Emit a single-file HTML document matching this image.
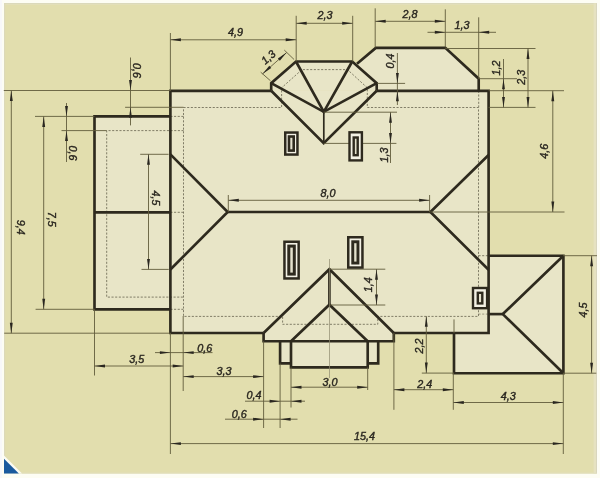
<!DOCTYPE html>
<html><head><meta charset="utf-8"><style>
html,body{margin:0;padding:0;background:#fdfdf4;}
svg{display:block;} .w{will-change:transform;}
text{font-family:"Liberation Sans",sans-serif;font-style:italic;fill:#2a2720;stroke:#2a2720;stroke-width:0.4px;}
</style></head><body>
<div class="w"><svg width="600" height="478" viewBox="0 0 600 478">
<rect x="0" y="0" width="600" height="478" fill="#fdfdf4"/>
<rect x="0" y="0" width="2" height="478" fill="#f8f8fa"/>
<rect x="4" y="3.2" width="592.6" height="470.4" fill="#e2deae"/>
<rect x="4" y="3.1" width="592.6" height="0.8" fill="#d8d5bd"/>
<rect x="4" y="3.9" width="592.6" height="1.1" fill="#e3dfb9"/>
<rect x="4" y="3.2" width="1.3" height="470.4" fill="#dcd9b9"/>
<rect x="593.6" y="3.2" width="2.4" height="470.4" fill="#e6e2c0"/>
<rect x="596" y="3.2" width="0.9" height="470.4" fill="#d7d4bc"/>
<rect x="4" y="472.7" width="592.6" height="0.9" fill="#e2dfc2"/>
<polygon points="170.4,90.8 488.6,90.8 488.6,333 170.4,333" fill="#e8e5c7"/>
<polygon points="271.2,90.8 271.2,83.2 296,61.5 352.2,61.5 376.7,83.2 376.7,90.8" fill="#e8e5c7"/>
<polygon points="357,63.8 375.8,47.9 445.3,47.9 478.7,78.7 478.7,90.8 376.7,90.8 376.7,83.3" fill="#e8e5c7"/>
<polygon points="94.5,116.4 170.4,116.4 170.4,309.3 94.5,309.3" fill="#e8e5c7"/>
<polygon points="488.6,255.7 563.4,255.7 563.4,373.2 454,373.2 454,333 488.6,333" fill="#e8e5c7"/>
<polygon points="263.6,333 329.4,269.2 393.8,333 393.8,341.2 263.6,341.2" fill="#e8e5c7"/>
<polygon points="280.1,341.2 378.2,341.2 378.2,363.4 368,363.4 368,367.4 291,367.4 291,363.4 280.1,363.4" fill="#e8e5c7"/>
<polyline points="183.5,107.5 281.6,107.5 281.6,87.8 302,69.6 347.5,69.6 367.3,87.8 367.3,107.5 478.5,107.5 478.5,316.4 377.8,316.4 377.8,324.3 282.6,324.3 282.6,316.4 183.5,316.4 183.5,107.5" fill="none" stroke="#6e6a55" stroke-width="0.85" stroke-dasharray="2.1,1.55"/>
<polyline points="183.6,130.6 106.7,130.6 106.7,297.1 183.6,297.1" fill="none" stroke="#6e6a55" stroke-width="0.85" stroke-dasharray="2.1,1.55"/>
<polyline points="170.4,116.4 183.6,116.4" fill="none" stroke="#6e6a55" stroke-width="0.85" stroke-dasharray="2.1,1.55"/>
<polyline points="170.4,309.3 183.6,309.3" fill="none" stroke="#6e6a55" stroke-width="0.85" stroke-dasharray="2.1,1.55"/>
<polyline points="170.4,212.3 183.6,212.3" fill="none" stroke="#6e6a55" stroke-width="0.85" stroke-dasharray="2.1,1.55"/>
<polyline points="478.5,255.7 488.6,255.7" fill="none" stroke="#6e6a55" stroke-width="0.85" stroke-dasharray="2.1,1.55"/>
<polyline points="478.5,314.1 488.6,314.1" fill="none" stroke="#6e6a55" stroke-width="0.6" stroke-dasharray="2.1,1.55"/>
<polyline points="478.7,90.8 478.7,107.3" fill="none" stroke="#6e6a55" stroke-width="0.85" stroke-dasharray="2.1,1.55"/>
<polyline points="271.2,90.8 170.4,90.8 170.4,333 263.6,333" fill="none" stroke="#2e2a1e" stroke-width="2.65" stroke-linejoin="miter" />
<polyline points="376.7,90.8 488.6,90.8 488.6,333 393.8,333" fill="none" stroke="#2e2a1e" stroke-width="2.65" stroke-linejoin="miter" />
<polyline points="271.2,90.8 271.2,83.2 296,61.5 352.2,61.5 376.7,83.2 376.7,90.8" fill="none" stroke="#2e2a1e" stroke-width="2.65" stroke-linejoin="miter" />
<polyline points="271.2,90.8 323.7,143.2 376.7,90.8" fill="none" stroke="#2e2a1e" stroke-width="2.65" stroke-linejoin="miter" />
<polyline points="296,61.5 323.8,111.8 352.2,61.5" fill="none" stroke="#2e2a1e" stroke-width="2.65" stroke-linejoin="miter" />
<polyline points="271.2,83.2 323.8,111.8 376.7,83.2" fill="none" stroke="#2e2a1e" stroke-width="2.65" stroke-linejoin="miter" />
<line x1="323.8" y1="111.8" x2="323.8" y2="143.2" stroke="#2e2a1e" stroke-width="1.7" />
<polyline points="357,63.8 375.8,47.9 445.3,47.9 478.7,78.7 478.7,90.8" fill="none" stroke="#2e2a1e" stroke-width="2.65" stroke-linejoin="miter" />
<polyline points="170.4,116.4 94.5,116.4 94.5,309.3 170.4,309.3" fill="none" stroke="#2e2a1e" stroke-width="2.65" stroke-linejoin="miter" />
<line x1="94.5" y1="212.3" x2="170.4" y2="212.3" stroke="#2e2a1e" stroke-width="2.65" />
<polyline points="170.4,154.4 227.7,212 170.4,269.5" fill="none" stroke="#2e2a1e" stroke-width="2.65" stroke-linejoin="miter" />
<line x1="227.7" y1="212" x2="430.4" y2="212" stroke="#2e2a1e" stroke-width="2.65" />
<polyline points="488.6,155 430.4,212 488.6,269.8" fill="none" stroke="#2e2a1e" stroke-width="2.65" stroke-linejoin="miter" />
<polyline points="488.6,255.7 563.4,255.7 563.4,373.2 454,373.2 454,333" fill="none" stroke="#2e2a1e" stroke-width="2.65" stroke-linejoin="miter" />
<polyline points="563.4,255.7 502.8,314.1 563.4,373.2" fill="none" stroke="#2e2a1e" stroke-width="2.65" stroke-linejoin="miter" />
<line x1="488.6" y1="314.1" x2="502.8" y2="314.1" stroke="#2e2a1e" stroke-width="2.65" />
<polyline points="263.6,333 263.6,341.2 393.8,341.2 393.8,333" fill="none" stroke="#2e2a1e" stroke-width="2.65" stroke-linejoin="miter" />
<polyline points="263.6,333 329.4,269.2 393.8,333" fill="none" stroke="#2e2a1e" stroke-width="2.65" stroke-linejoin="miter" />
<polyline points="291,341.2 329.4,304.7 367.7,341.2" fill="none" stroke="#2e2a1e" stroke-width="2.65" stroke-linejoin="miter" />
<line x1="329.4" y1="269.2" x2="329.4" y2="304.7" stroke="#2e2a1e" stroke-width="2.65" />
<polyline points="280.1,341.2 280.1,363.4 291,363.4" fill="none" stroke="#2e2a1e" stroke-width="2.65" stroke-linejoin="miter" />
<polyline points="291,341.2 291,367.4 367.7,367.4 367.7,341.2" fill="none" stroke="#2e2a1e" stroke-width="2.65" stroke-linejoin="miter" />
<polyline points="367.7,363.4 378.2,363.4 378.2,341.2" fill="none" stroke="#2e2a1e" stroke-width="2.65" stroke-linejoin="miter" />
<line x1="329.5" y1="259" x2="329.5" y2="378" stroke="#8f8b70" stroke-width="0.7" />
<line x1="3.8" y1="90.5" x2="170.4" y2="90.5" stroke="#625c3c" stroke-width="0.9" />
<line x1="4.2" y1="333.2" x2="170.4" y2="333.2" stroke="#625c3c" stroke-width="0.9" />
<line x1="11.3" y1="90.5" x2="11.3" y2="333.2" stroke="#625c3c" stroke-width="0.9" />
<polygon points="11.30,90.50 12.75,101.00 9.85,101.00" fill="#2a2720"/>
<polygon points="11.30,333.20 9.85,322.70 12.75,322.70" fill="#2a2720"/>
<text transform="translate(20.4,227.2) rotate(90)" x="0" y="3.87" font-size="10.8" text-anchor="middle">9,4</text>
<line x1="35" y1="116.4" x2="94.5" y2="116.4" stroke="#625c3c" stroke-width="0.9" />
<line x1="35.6" y1="309.3" x2="94.5" y2="309.3" stroke="#625c3c" stroke-width="0.9" />
<line x1="43.7" y1="116.4" x2="43.7" y2="309.3" stroke="#625c3c" stroke-width="0.9" />
<polygon points="43.70,116.40 45.15,126.90 42.25,126.90" fill="#2a2720"/>
<polygon points="43.70,309.30 42.25,298.80 45.15,298.80" fill="#2a2720"/>
<text transform="translate(51.6,219.3) rotate(90)" x="0" y="3.87" font-size="10.8" text-anchor="middle">7,5</text>
<line x1="61.5" y1="130.6" x2="106.7" y2="130.6" stroke="#625c3c" stroke-width="0.9" />
<line x1="66.5" y1="103" x2="66.5" y2="162" stroke="#625c3c" stroke-width="0.9" />
<polygon points="66.50,116.40 65.05,105.90 67.95,105.90" fill="#2a2720"/>
<polygon points="66.50,130.60 67.95,141.10 65.05,141.10" fill="#2a2720"/>
<text transform="translate(73.2,153) rotate(90)" x="0" y="3.87" font-size="10.8" text-anchor="middle">0,6</text>
<line x1="125.1" y1="107.3" x2="183.6" y2="107.3" stroke="#625c3c" stroke-width="0.9" />
<line x1="130.5" y1="57.5" x2="130.5" y2="125.4" stroke="#625c3c" stroke-width="0.9" />
<polygon points="130.50,90.50 129.05,80.00 131.95,80.00" fill="#2a2720"/>
<polygon points="130.50,107.30 131.95,117.80 129.05,117.80" fill="#2a2720"/>
<text transform="translate(137.3,70.5) rotate(90)" x="0" y="3.87" font-size="10.8" text-anchor="middle">0,6</text>
<line x1="170.4" y1="33" x2="170.4" y2="90.8" stroke="#625c3c" stroke-width="0.9" />
<line x1="296.2" y1="15.8" x2="296.2" y2="61.5" stroke="#625c3c" stroke-width="0.9" />
<line x1="170.4" y1="39.8" x2="296.2" y2="39.8" stroke="#625c3c" stroke-width="0.9" />
<polygon points="170.40,39.80 180.90,38.35 180.90,41.25" fill="#2a2720"/>
<polygon points="296.20,39.80 285.70,41.25 285.70,38.35" fill="#2a2720"/>
<text x="235.5" y="35.67" font-size="10.8" text-anchor="middle">4,9</text>
<line x1="352.7" y1="15.8" x2="352.7" y2="61.5" stroke="#625c3c" stroke-width="0.9" />
<line x1="296.2" y1="23.3" x2="352.7" y2="23.3" stroke="#625c3c" stroke-width="0.9" />
<polygon points="296.20,23.30 306.70,21.85 306.70,24.75" fill="#2a2720"/>
<polygon points="352.70,23.30 342.20,24.75 342.20,21.85" fill="#2a2720"/>
<text x="325" y="18.87" font-size="10.8" text-anchor="middle">2,3</text>
<line x1="375.2" y1="8.3" x2="375.2" y2="47.5" stroke="#625c3c" stroke-width="0.9" />
<line x1="445.3" y1="9.3" x2="445.3" y2="47.5" stroke="#625c3c" stroke-width="0.9" />
<line x1="375.2" y1="21.3" x2="445.3" y2="21.3" stroke="#625c3c" stroke-width="0.9" />
<polygon points="375.20,21.30 385.70,19.85 385.70,22.75" fill="#2a2720"/>
<polygon points="445.30,21.30 434.80,22.75 434.80,19.85" fill="#2a2720"/>
<text x="409.9" y="18.37" font-size="10.8" text-anchor="middle">2,8</text>
<line x1="478.7" y1="17.3" x2="478.7" y2="78.7" stroke="#625c3c" stroke-width="0.9" />
<line x1="427.5" y1="32.3" x2="496" y2="32.3" stroke="#625c3c" stroke-width="0.9" />
<polygon points="445.30,32.30 434.80,33.75 434.80,30.85" fill="#2a2720"/>
<polygon points="478.70,32.30 489.20,30.85 489.20,33.75" fill="#2a2720"/>
<text x="461.9" y="29.17" font-size="10.8" text-anchor="middle">1,3</text>
<line x1="445.3" y1="48.5" x2="535.5" y2="48.5" stroke="#625c3c" stroke-width="0.9" />
<line x1="478.7" y1="78.7" x2="517" y2="78.7" stroke="#625c3c" stroke-width="0.9" />
<line x1="488.6" y1="90.7" x2="564" y2="90.7" stroke="#625c3c" stroke-width="0.9" />
<line x1="488.6" y1="107.4" x2="535.5" y2="107.4" stroke="#625c3c" stroke-width="0.9" />
<line x1="503.5" y1="59" x2="503.5" y2="107.4" stroke="#625c3c" stroke-width="0.9" />
<polygon points="503.50,78.70 504.95,89.20 502.05,89.20" fill="#2a2720"/>
<polygon points="503.50,107.40 502.05,96.90 504.95,96.90" fill="#2a2720"/>
<text transform="translate(496.5,68) rotate(-90)" x="0" y="3.87" font-size="10.8" text-anchor="middle">1,2</text>
<line x1="528" y1="48.5" x2="528" y2="107.4" stroke="#625c3c" stroke-width="0.9" />
<polygon points="528.00,48.50 529.45,59.00 526.55,59.00" fill="#2a2720"/>
<polygon points="528.00,107.40 526.55,96.90 529.45,96.90" fill="#2a2720"/>
<text transform="translate(521.3,77.3) rotate(-90)" x="0" y="3.87" font-size="10.8" text-anchor="middle">2,3</text>
<line x1="430.4" y1="212" x2="564.5" y2="212" stroke="#625c3c" stroke-width="0.9" />
<line x1="552.8" y1="90.7" x2="552.8" y2="212" stroke="#625c3c" stroke-width="0.9" />
<polygon points="552.80,90.70 554.25,101.20 551.35,101.20" fill="#2a2720"/>
<polygon points="552.80,212.00 551.35,201.50 554.25,201.50" fill="#2a2720"/>
<text transform="translate(544.6,151.2) rotate(-90)" x="0" y="3.87" font-size="10.8" text-anchor="middle">4,6</text>
<line x1="377.3" y1="83.4" x2="405.1" y2="83.4" stroke="#625c3c" stroke-width="0.9" />
<line x1="397.4" y1="53" x2="397.4" y2="105" stroke="#625c3c" stroke-width="0.9" />
<polygon points="397.40,83.40 395.95,72.90 398.85,72.90" fill="#2a2720"/>
<polygon points="397.40,90.70 398.85,101.20 395.95,101.20" fill="#2a2720"/>
<text transform="translate(389.8,61.1) rotate(-90)" x="0" y="3.87" font-size="10.8" text-anchor="middle">0,4</text>
<line x1="294.1" y1="59.5" x2="284.3" y2="50.1" stroke="#625c3c" stroke-width="0.9" />
<line x1="270.5" y1="80.8" x2="260.7" y2="72.2" stroke="#625c3c" stroke-width="0.9" />
<line x1="262.5" y1="73.9" x2="286.6" y2="52.6" stroke="#625c3c" stroke-width="0.9" />
<polygon points="262.50,73.90 269.27,65.75 271.23,67.89" fill="#2a2720"/>
<polygon points="286.60,52.60 279.83,60.75 277.87,58.61" fill="#2a2720"/>
<text transform="translate(268.2,57.2) rotate(-42)" x="0" y="3.87" font-size="10.8" text-anchor="middle">1,3</text>
<line x1="323.8" y1="112.2" x2="397" y2="112.2" stroke="#625c3c" stroke-width="0.9" />
<line x1="323.7" y1="143.4" x2="396.4" y2="143.4" stroke="#625c3c" stroke-width="0.9" />
<line x1="390.5" y1="112.2" x2="390.5" y2="163" stroke="#625c3c" stroke-width="0.9" />
<polygon points="390.50,112.20 391.95,122.70 389.05,122.70" fill="#2a2720"/>
<polygon points="390.50,143.40 389.05,132.90 391.95,132.90" fill="#2a2720"/>
<text transform="translate(383.9,154.9) rotate(-90)" x="0" y="3.87" font-size="10.8" text-anchor="middle">1,3</text>
<line x1="228.3" y1="195" x2="228.3" y2="212" stroke="#625c3c" stroke-width="0.9" />
<line x1="429.6" y1="195" x2="429.6" y2="212" stroke="#625c3c" stroke-width="0.9" />
<line x1="228.3" y1="200.3" x2="429.6" y2="200.3" stroke="#625c3c" stroke-width="0.9" />
<polygon points="228.30,200.30 238.80,198.85 238.80,201.75" fill="#2a2720"/>
<polygon points="429.60,200.30 419.10,201.75 419.10,198.85" fill="#2a2720"/>
<text x="327.9" y="197.17" font-size="10.8" text-anchor="middle">8,0</text>
<line x1="140.2" y1="154.3" x2="168.6" y2="154.3" stroke="#625c3c" stroke-width="0.9" />
<line x1="141.5" y1="269.4" x2="168.8" y2="269.4" stroke="#625c3c" stroke-width="0.9" />
<line x1="148.5" y1="154.3" x2="148.5" y2="269.4" stroke="#625c3c" stroke-width="0.9" />
<polygon points="148.50,154.30 149.95,164.80 147.05,164.80" fill="#2a2720"/>
<polygon points="148.50,269.40 147.05,258.90 149.95,258.90" fill="#2a2720"/>
<text transform="translate(155.8,198) rotate(90)" x="0" y="3.87" font-size="10.8" text-anchor="middle">4,5</text>
<line x1="329.4" y1="269.2" x2="385.3" y2="269.2" stroke="#625c3c" stroke-width="0.9" />
<line x1="329.4" y1="305" x2="385.3" y2="305" stroke="#625c3c" stroke-width="0.9" />
<line x1="376.5" y1="269.2" x2="376.5" y2="305" stroke="#625c3c" stroke-width="0.9" />
<polygon points="376.50,269.20 377.95,279.70 375.05,279.70" fill="#2a2720"/>
<polygon points="376.50,305.00 375.05,294.50 377.95,294.50" fill="#2a2720"/>
<text transform="translate(368.6,284.7) rotate(-90)" x="0" y="3.87" font-size="10.8" text-anchor="middle">1,4</text>
<line x1="563" y1="255.7" x2="597" y2="255.7" stroke="#625c3c" stroke-width="0.9" />
<line x1="563" y1="373.2" x2="596.3" y2="373.2" stroke="#625c3c" stroke-width="0.9" />
<line x1="591.6" y1="255.7" x2="591.6" y2="373.2" stroke="#625c3c" stroke-width="0.9" />
<polygon points="591.60,255.70 593.05,266.20 590.15,266.20" fill="#2a2720"/>
<polygon points="591.60,373.20 590.15,362.70 593.05,362.70" fill="#2a2720"/>
<text transform="translate(582.8,310) rotate(-90)" x="0" y="3.87" font-size="10.8" text-anchor="middle">4,5</text>
<line x1="421.8" y1="373.1" x2="454" y2="373.1" stroke="#625c3c" stroke-width="0.9" />
<line x1="426.3" y1="316.2" x2="426.3" y2="373.1" stroke="#625c3c" stroke-width="0.9" />
<polygon points="426.30,373.10 424.85,362.60 427.75,362.60" fill="#2a2720"/>
<polygon points="426.30,316.20 427.75,326.70 424.85,326.70" fill="#2a2720"/>
<text transform="translate(419.2,346) rotate(-90)" x="0" y="3.87" font-size="10.8" text-anchor="middle">2,2</text>
<line x1="94.5" y1="309.3" x2="94.5" y2="375.5" stroke="#625c3c" stroke-width="0.9" />
<line x1="170.4" y1="333" x2="170.4" y2="454" stroke="#625c3c" stroke-width="0.9" />
<line x1="183.2" y1="316" x2="183.2" y2="391" stroke="#625c3c" stroke-width="0.9" />
<line x1="263.6" y1="341.2" x2="263.6" y2="428" stroke="#625c3c" stroke-width="0.9" />
<line x1="280.1" y1="363.4" x2="280.1" y2="428" stroke="#625c3c" stroke-width="0.9" />
<line x1="291" y1="367.4" x2="291" y2="407.5" stroke="#625c3c" stroke-width="0.9" />
<line x1="367.7" y1="367.4" x2="367.7" y2="390" stroke="#625c3c" stroke-width="0.9" />
<line x1="393.9" y1="333" x2="393.9" y2="409.8" stroke="#625c3c" stroke-width="0.9" />
<line x1="453.3" y1="373" x2="453.3" y2="409.8" stroke="#625c3c" stroke-width="0.9" />
<line x1="563.3" y1="373" x2="563.3" y2="454" stroke="#625c3c" stroke-width="0.9" />
<line x1="454" y1="319.4" x2="454" y2="333" stroke="#625c3c" stroke-width="0.9" />
<line x1="94.5" y1="366" x2="183.2" y2="366" stroke="#625c3c" stroke-width="0.9" />
<polygon points="94.50,366.00 105.00,364.55 105.00,367.45" fill="#2a2720"/>
<polygon points="183.20,366.00 172.70,367.45 172.70,364.55" fill="#2a2720"/>
<text x="136.8" y="363.37" font-size="10.8" text-anchor="middle">3,5</text>
<line x1="155" y1="352.6" x2="212.5" y2="352.6" stroke="#625c3c" stroke-width="0.9" />
<polygon points="170.40,352.60 159.90,354.05 159.90,351.15" fill="#2a2720"/>
<polygon points="183.20,352.60 193.70,351.15 193.70,354.05" fill="#2a2720"/>
<text x="204.8" y="351.67" font-size="10.8" text-anchor="middle">0,6</text>
<line x1="183.2" y1="376.6" x2="263.6" y2="376.6" stroke="#625c3c" stroke-width="0.9" />
<polygon points="183.20,376.60 193.70,375.15 193.70,378.05" fill="#2a2720"/>
<polygon points="263.60,376.60 253.10,378.05 253.10,375.15" fill="#2a2720"/>
<text x="224" y="374.67" font-size="10.8" text-anchor="middle">3,3</text>
<line x1="291" y1="387.2" x2="367.7" y2="387.2" stroke="#625c3c" stroke-width="0.9" />
<polygon points="291.00,387.20 301.50,385.75 301.50,388.65" fill="#2a2720"/>
<polygon points="367.70,387.20 357.20,388.65 357.20,385.75" fill="#2a2720"/>
<text x="330" y="385.57" font-size="10.8" text-anchor="middle">3,0</text>
<line x1="245" y1="401.2" x2="305" y2="401.2" stroke="#625c3c" stroke-width="0.9" />
<polygon points="280.10,401.20 269.60,402.65 269.60,399.75" fill="#2a2720"/>
<polygon points="291.00,401.20 301.50,399.75 301.50,402.65" fill="#2a2720"/>
<text x="254" y="398.67" font-size="10.8" text-anchor="middle">0,4</text>
<line x1="225" y1="419.2" x2="297.5" y2="419.2" stroke="#625c3c" stroke-width="0.9" />
<polygon points="263.60,419.20 253.10,420.65 253.10,417.75" fill="#2a2720"/>
<polygon points="280.10,419.20 290.60,417.75 290.60,420.65" fill="#2a2720"/>
<text x="239.2" y="418.07" font-size="10.8" text-anchor="middle">0,6</text>
<line x1="393.9" y1="389.7" x2="453.3" y2="389.7" stroke="#625c3c" stroke-width="0.9" />
<polygon points="393.90,389.70 404.40,388.25 404.40,391.15" fill="#2a2720"/>
<polygon points="453.30,389.70 442.80,391.15 442.80,388.25" fill="#2a2720"/>
<text x="424.7" y="388.07" font-size="10.8" text-anchor="middle">2,4</text>
<line x1="453.3" y1="402.5" x2="563.3" y2="402.5" stroke="#625c3c" stroke-width="0.9" />
<polygon points="453.30,402.50 463.80,401.05 463.80,403.95" fill="#2a2720"/>
<polygon points="563.30,402.50 552.80,403.95 552.80,401.05" fill="#2a2720"/>
<text x="508.3" y="399.77" font-size="10.8" text-anchor="middle">4,3</text>
<line x1="170.4" y1="443.6" x2="563.3" y2="443.6" stroke="#625c3c" stroke-width="0.9" />
<polygon points="170.40,443.60 180.90,442.15 180.90,445.05" fill="#2a2720"/>
<polygon points="563.30,443.60 552.80,445.05 552.80,442.15" fill="#2a2720"/>
<text x="364.6" y="440.07" font-size="10.8" text-anchor="middle">15,4</text>
<rect x="285.25" y="132.55" width="12.20" height="22.00" fill="#f3f1e4" stroke="#2e2a1e" stroke-width="2.5"/>
<rect x="289.00" y="136.50" width="4.70" height="14.10" fill="#e4e1cc" stroke="#2e2a1e" stroke-width="2.6"/>
<rect x="349.50" y="132.30" width="12.40" height="28.10" fill="#f3f1e4" stroke="#2e2a1e" stroke-width="2.4"/>
<rect x="353.70" y="137.50" width="4.00" height="17.70" fill="#e4e1cc" stroke="#2e2a1e" stroke-width="2.4"/>
<rect x="284.45" y="241.75" width="14.20" height="36.70" fill="#f3f1e4" stroke="#2e2a1e" stroke-width="2.5"/>
<rect x="288.80" y="246.10" width="5.50" height="28.00" fill="#e4e1cc" stroke="#2e2a1e" stroke-width="3.0"/>
<rect x="348.25" y="237.25" width="14.20" height="30.30" fill="#f3f1e4" stroke="#2e2a1e" stroke-width="2.5"/>
<rect x="352.75" y="241.75" width="5.20" height="21.30" fill="#e4e1cc" stroke="#2e2a1e" stroke-width="2.9"/>
<rect x="473.00" y="288.00" width="14.10" height="20.20" fill="#f3f1e4" stroke="#2e2a1e" stroke-width="2.4"/>
<rect x="477.80" y="292.80" width="4.50" height="10.60" fill="#e4e1cc" stroke="#2e2a1e" stroke-width="2.4"/>
<polygon points="4,455.6 4,473.6 22,473.6" fill="#fbfbf3"/>
<polygon points="4,458.8 4,473.6 18.8,473.6" fill="#1a5a9e"/>
</svg></div>
</body></html>
